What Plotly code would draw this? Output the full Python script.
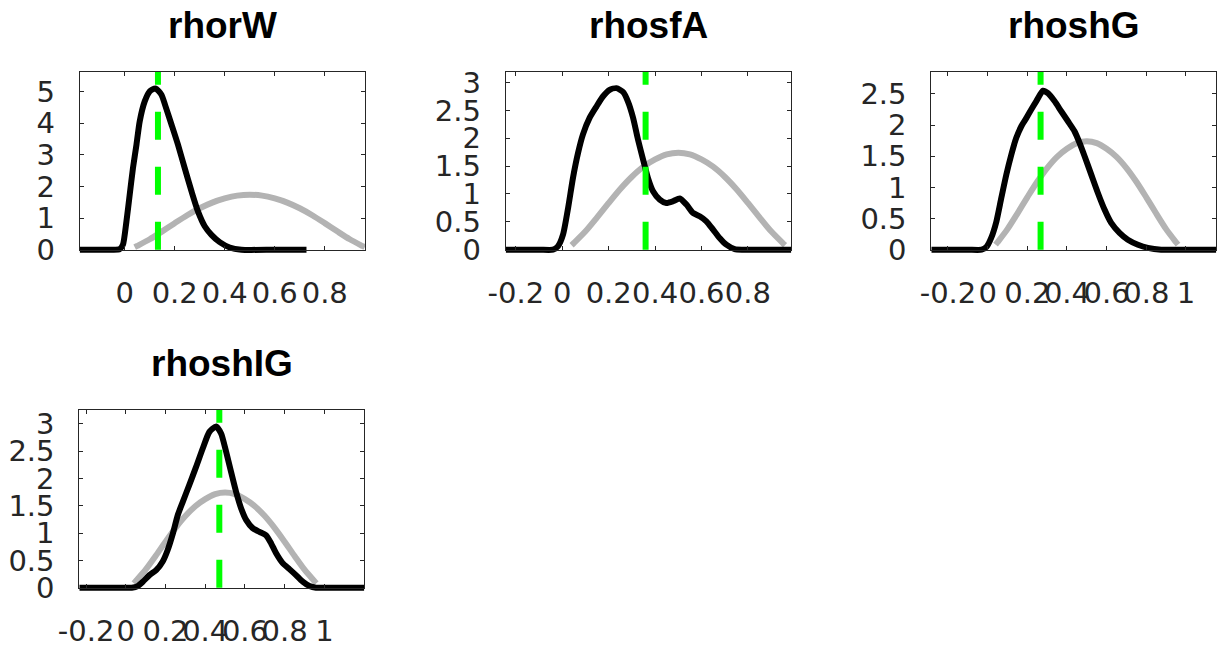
import plotly.graph_objects as go

# ---------------- data ----------------
titles = ["rhorW", "rhosfA", "rhoshG", "rhoshIG"]

# prior density (grey), same for all four parameters
prior_x = [0.04, 0.05, 0.10, 0.15, 0.20, 0.25, 0.30, 0.35, 0.40, 0.45, 0.50,
           0.55, 0.60, 0.65, 0.70, 0.75, 0.80, 0.85, 0.90, 0.95, 0.96]
prior_y = [0.08, 0.12, 0.33, 0.58, 0.84, 1.09, 1.31, 1.49, 1.62, 1.71, 1.74,
           1.71, 1.62, 1.49, 1.31, 1.09, 0.84, 0.58, 0.33, 0.12, 0.08]

# posterior densities (black)
post1_x = [-0.18, -0.05, -0.02, -0.007, 0.007, 0.02, 0.033, 0.047, 0.06, 0.08, 0.10,
           0.123, 0.147, 0.163, 0.187, 0.213, 0.24, 0.267, 0.293, 0.32, 0.347, 0.38,
           0.42, 0.467, 0.60, 0.727]
post1_y = [0.0, 0.0, 0.02, 0.16, 0.90, 1.74, 2.58, 3.32, 4.06, 4.69, 5.01,
           5.10, 4.90, 4.54, 3.96, 3.32, 2.58, 1.85, 1.21, 0.74, 0.47, 0.24,
           0.07, 0.0, 0.0, 0.0]

post2_x = [-0.244, -0.10, -0.04, -0.019, 0.003, 0.025, 0.046, 0.068, 0.089, 0.118, 0.147,
           0.175, 0.204, 0.233, 0.262, 0.283, 0.305, 0.326, 0.348, 0.369, 0.391, 0.42,
           0.448, 0.477, 0.506, 0.535, 0.563, 0.592, 0.621, 0.65, 0.678, 0.707, 0.743,
           0.779, 0.90, 0.987]
post2_y = [0.0, 0.0, 0.0, 0.06, 0.27, 0.75, 1.29, 1.74, 2.07, 2.37, 2.57,
           2.75, 2.87, 2.90, 2.83, 2.66, 2.37, 1.98, 1.62, 1.29, 1.05, 0.90,
           0.84, 0.87, 0.92, 0.81, 0.66, 0.60, 0.51, 0.36, 0.21, 0.09, 0.01,
           0.0, 0.0, 0.0]

post3_x = [-0.284, -0.10, -0.03, -0.007, 0.018, 0.044, 0.069, 0.094, 0.119, 0.144, 0.17,
           0.195, 0.22, 0.245, 0.279, 0.304, 0.338, 0.371, 0.405, 0.438, 0.464, 0.489,
           0.523, 0.556, 0.59, 0.623, 0.665, 0.707, 0.758, 0.808, 0.875, 1.0, 1.153]
post3_y = [0.0, 0.0, 0.0, 0.04, 0.19, 0.45, 0.83, 1.20, 1.52, 1.79, 1.98,
           2.11, 2.25, 2.38, 2.55, 2.51, 2.38, 2.22, 2.06, 1.90, 1.71, 1.50,
           1.20, 0.91, 0.64, 0.43, 0.27, 0.16, 0.08, 0.03, 0.0, 0.0, 0.0]

post4_x = [-0.234, -0.05, 0.03, 0.06, 0.086, 0.119, 0.153, 0.186, 0.211, 0.237, 0.262,
           0.287, 0.32, 0.354, 0.388, 0.421, 0.455, 0.48, 0.505, 0.53, 0.555, 0.581,
           0.606, 0.639, 0.673, 0.706, 0.732, 0.757, 0.79, 0.824, 0.857, 0.891, 0.925,
           0.958, 1.05, 1.201]
post4_y = [0.0, 0.0, 0.0, 0.03, 0.11, 0.23, 0.32, 0.48, 0.69, 0.99, 1.33,
           1.57, 1.88, 2.21, 2.55, 2.85, 2.95, 2.82, 2.49, 2.12, 1.76, 1.45,
           1.24, 1.09, 1.02, 0.96, 0.81, 0.63, 0.45, 0.34, 0.23, 0.11, 0.03,
           0.0, 0.0, 0.0]

post_x = [post1_x, post2_x, post3_x, post4_x]
post_y = [post1_y, post2_y, post3_y, post4_y]

# posterior mode (green dashed line)
mode_x = [0.133, 0.359, 0.267, 0.471]

# axis limits
x_lims = [[-0.18, 0.961], [-0.244, 0.987], [-0.284, 1.153], [-0.234, 1.201]]
y_tops = [5.62, 3.19, 2.85, 3.25]

# tick labels
x_ticks = [[0, 0.2, 0.4, 0.6, 0.8],
           [-0.2, 0, 0.2, 0.4, 0.6, 0.8],
           [-0.2, 0, 0.2, 0.4, 0.6, 0.8, 1],
           [-0.2, 0, 0.2, 0.4, 0.6, 0.8, 1]]
x_ticktext = [["0", "0.2", "0.4", "0.6", "0.8"],
              ["-0.2", "0", "0.2", "0.4", "0.6", "0.8"],
              ["-0.2", "0", "0.2", "0.4", "0.6", "0.8", "1"],
              ["-0.2", "0", "0.2", "0.4", "0.6", "0.8", "1"]]
y_ticks = [[0, 1, 2, 3, 4, 5],
           [0, 0.5, 1, 1.5, 2, 2.5, 3],
           [0, 0.5, 1, 1.5, 2, 2.5],
           [0, 0.5, 1, 1.5, 2, 2.5, 3]]
y_ticktext = [["0", "1", "2", "3", "4", "5"],
              ["0", "0.5", "1", "1.5", "2", "2.5", "3"],
              ["0", "0.5", "1", "1.5", "2", "2.5"],
              ["0", "0.5", "1", "1.5", "2", "2.5", "3"]]

# ---------------- layout (window pixels) ----------------
OFF = 8                      # default page margin of the HTML body
W, H = 1225 - OFF, 648 - OFF  # figure size so that it ends at the window edge
boxes = [(79.7, 365.0, 72.0, 249.7),
         (505.7, 791.3, 72.0, 249.7),
         (931.3, 1216.3, 72.0, 249.7),
         (79.3, 364.3, 410.0, 587.7)]
PAD = 4.0  # let the thick lines straddle the bottom frame line

GREY = "#b3b3b3"
GREEN = "#00ff00"
AXC = "#262626"
LW = 6


def fx(px):
    return (px - OFF) / W


def fy(py):
    return 1 - (py - OFF) / H


fig = go.Figure()
layout = dict(width=W, height=H, margin=dict(l=0, r=0, t=0, b=0, autoexpand=False),
              paper_bgcolor="white", plot_bgcolor="rgba(0,0,0,0)",
              showlegend=False, annotations=[])

tickfont = dict(family="DejaVu Sans", size=29, color=AXC)

for i in range(4):
    n, m = i + 1, i + 5
    x0, x1, yt, yb = boxes[i]
    ytop = y_tops[i]
    ppu = (yb - yt) / ytop
    eps = PAD / ppu
    xs = "x" if n == 1 else f"x{n}"
    ys = "y" if n == 1 else f"y{n}"
    xk = "xaxis" if n == 1 else f"xaxis{n}"
    yk = "yaxis" if n == 1 else f"yaxis{n}"

    # data traces
    fig.add_trace(go.Scatter(x=prior_x, y=prior_y, mode="lines", xaxis=xs, yaxis=ys,
                             line=dict(color=GREY, width=LW, shape="spline", smoothing=0.8),
                             hoverinfo="skip"))
    fig.add_trace(go.Scatter(x=post_x[i], y=post_y[i], mode="lines", xaxis=xs, yaxis=ys,
                             line=dict(color="black", width=LW, shape="spline", smoothing=0.6),
                             hoverinfo="skip"))
    fig.add_trace(go.Scatter(x=[mode_x[i], mode_x[i]], y=[0, ytop], mode="lines",
                             xaxis=xs, yaxis=ys,
                             line=dict(color=GREEN, width=LW, dash="28px,27px"),
                             hoverinfo="skip"))

    layout[xk] = dict(domain=[fx(x0), fx(x1)], range=x_lims[i], visible=False,
                      anchor=ys, fixedrange=True, automargin=False)
    layout[yk] = dict(domain=[fy(yb + PAD), fy(yt)], range=[-eps, ytop],
                      visible=False, anchor=xs, fixedrange=True, automargin=False)

    # frame axes (box, ticks, labels)
    fig.add_trace(go.Scatter(x=[None], y=[None], xaxis=f"x{m}", yaxis=f"y{m}",
                             mode="lines", hoverinfo="skip"))
    layout[f"xaxis{m}"] = dict(domain=[fx(x0), fx(x1)], range=x_lims[i], anchor=f"y{m}",
                               showline=True, mirror="ticks", linecolor=AXC, linewidth=1,
                               ticks="inside", ticklen=4, tickcolor=AXC, tickwidth=1,
                               tickvals=x_ticks[i], ticktext=x_ticktext[i],
                               tickfont=tickfont, tickangle=0, showgrid=False,
                               zeroline=False, ticklabelstandoff=17, fixedrange=True,
                               automargin=False)
    layout[f"yaxis{m}"] = dict(domain=[fy(yb), fy(yt)], range=[0, ytop],
                               anchor=f"x{m}",
                               showline=True, mirror="ticks", linecolor=AXC, linewidth=1,
                               ticks="inside", ticklen=4, tickcolor=AXC, tickwidth=1,
                               tickvals=y_ticks[i], ticktext=y_ticktext[i],
                               tickfont=tickfont, showgrid=False, zeroline=False,
                               ticklabelstandoff=18, fixedrange=True, automargin=False)

    layout["annotations"].append(dict(
        text=f"<b>{titles[i]}</b>", xref="paper", yref="paper",
        x=fx((x0 + x1) / 2), y=fy(yt - 24), xanchor="center", yanchor="bottom",
        showarrow=False, font=dict(family="Liberation Sans", size=37, color="black")))

fig.update_layout(**layout)
fig.write_html("out.html")
